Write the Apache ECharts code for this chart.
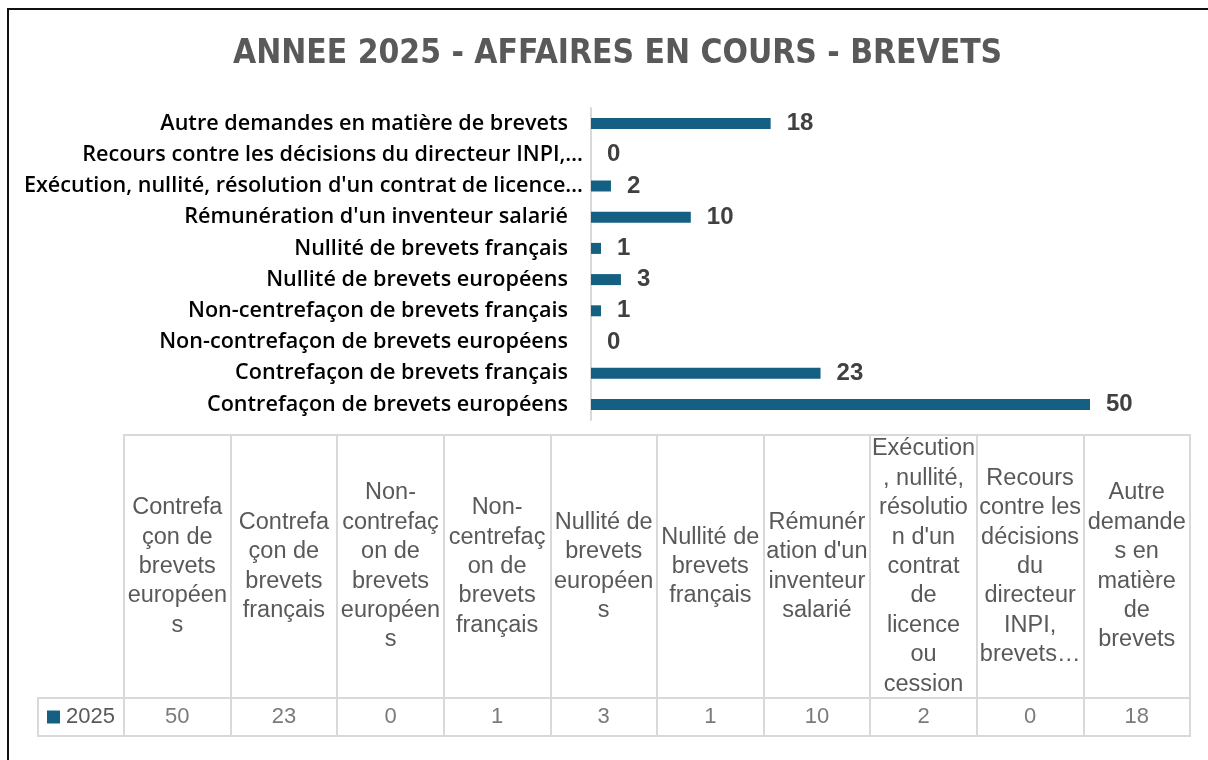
<!DOCTYPE html>
<html>
<head>
<meta charset="utf-8">
<script src="https://cdn.jsdelivr.net/npm/echarts@6/dist/echarts.min.js"></script>
<style>
  html, body { margin: 0; padding: 0; background: #fff; }
  #chart { width: 1208px; height: 760px; }
  #frame {
    position: absolute; left: 7px; top: 8px; width: 1400px; height: 900px;
    border-top: 2px solid #111; border-left: 2px solid #111; pointer-events: none;
  }
</style>
</head>
<body>
<div id="chart"></div>
<div id="frame"></div>
<script>
// categories, in table order (bottom to top on the bar chart)
const categories = [
  'Contrefaçon de brevets européens',
  'Contrefaçon de brevets français',
  'Non-contrefaçon de brevets européens',
  'Non-centrefaçon de brevets français',
  'Nullité de brevets européens',
  'Nullité de brevets français',
  "Rémunération d'un inventeur salarié",
  "Exécution, nullité, résolution d'un contrat de licence ou cession",
  'Recours contre les décisions du directeur INPI, brevets',
  'Autre demandes en matière de brevets',
];
const values2025 = [50, 23, 0, 1, 3, 1, 10, 2, 0, 18];

// labels as shown on the bar axis (truncated like the original)
const axisLabels = [
  'Contrefaçon de brevets européens',
  'Contrefaçon de brevets français',
  'Non-contrefaçon de brevets européens',
  'Non-centrefaçon de brevets français',
  'Nullité de brevets européens',
  'Nullité de brevets français',
  "Rémunération d'un inventeur salarié",
  "Exécution, nullité, résolution d'un contrat de licence…",
  'Recours contre les décisions du directeur INPI,…',
  'Autre demandes en matière de brevets',
];

// wrapped table headers
const headerLabels = [
  'Contrefa\nçon de\nbrevets\neuropéen\ns',
  'Contrefa\nçon de\nbrevets\nfrançais',
  'Non-\ncontrefaç\non de\nbrevets\neuropéen\ns',
  'Non-\ncentrefaç\non de\nbrevets\nfrançais',
  'Nullité de\nbrevets\neuropéen\ns',
  'Nullité de\nbrevets\nfrançais',
  "Rémunér\nation d'un\ninventeur\nsalarié",
  "Exécution\n, nullité,\nrésolutio\nn d'un\ncontrat\nde\nlicence\nou\ncession",
  'Recours\ncontre les\ndécisions\ndu\ndirecteur\nINPI,\nbrevets…',
  'Autre\ndemande\ns en\nmatière\nde\nbrevets',
];
const seriesName = '2025';

const barColor = '#156082';
const lineColor = '#d9d9d9';
const textGray = '#595959';
const tableFont = '"Liberation Sans", Arial, sans-serif';

const chart = echarts.init(document.getElementById('chart'), null, { renderer: 'canvas' });

chart.setOption({
  animation: false,
  title: {
    text: 'ANNEE 2025 - AFFAIRES EN COURS - BREVETS',
    left: 228,
    top: 33,
    textStyle: {
      fontFamily: '"Liberation Sans Narrow", "DejaVu Sans Condensed", sans-serif',
      fontWeight: 'bold',
      fontSize: 33.3,
      color: textGray,
    },
  },
  grid: [
    { left: 591, top: 108, width: 499, height: 312 },
    { left: 124, top: 435, width: 1066, height: 263, show: true, borderColor: lineColor, borderWidth: 2 },
    { left: 124, top: 698, width: 1066, height: 38, show: true, borderColor: lineColor, borderWidth: 2 },
    { left: 38, top: 698, width: 86, height: 38, show: true, borderColor: lineColor, borderWidth: 2 },
  ],
  xAxis: [
    { gridIndex: 0, type: 'value', min: 0, max: 50, show: false },
    {
      gridIndex: 1,
      type: 'category',
      data: categories,
      axisLine: { show: false },
      axisTick: { show: false },
      splitLine: { show: true, interval: 0, lineStyle: { color: lineColor, width: 2 } },
      axisLabel: {
        interval: 0,
        margin: -131.5,
        verticalAlign: 'middle',
        lineHeight: 29.4,
        fontSize: 23.5,
        fontFamily: tableFont,
        color: textGray,
        formatter: (v, i) => headerLabels[i],
      },
    },
    {
      gridIndex: 2,
      type: 'category',
      data: categories,
      axisLine: { show: false },
      axisTick: { show: false },
      axisLabel: { show: false },
      splitLine: { show: true, interval: 0, lineStyle: { color: lineColor, width: 2 } },
    },
    { gridIndex: 3, type: 'value', show: false },
  ],
  yAxis: [
    {
      gridIndex: 0,
      type: 'category',
      data: categories,
      axisLine: { show: true, lineStyle: { color: lineColor, width: 2 } },
      axisTick: { show: false },
      axisLabel: {
        interval: 0,
        margin: 23,
        fontSize: 21.6,
        fontFamily: '"Open Sans", "Noto Sans", sans-serif',
        fontWeight: 600,
        color: '#000',
        // truncated labels sit a bit closer to the axis, as in Excel
        formatter: (v, i) => axisLabels[i].endsWith('…') ? `{cut|${axisLabels[i]}}` : axisLabels[i],
        rich: {
          cut: {
            fontSize: 21.6,
            fontFamily: '"Open Sans", "Noto Sans", sans-serif',
            fontWeight: 600,
            color: '#000',
            padding: [0, -15, 0, 0],
          },
        },
      },
    },
    { gridIndex: 1, type: 'value', show: false },
    { gridIndex: 2, type: 'category', data: [seriesName], show: false },
    {
      gridIndex: 3,
      type: 'category',
      data: [seriesName],
      axisLine: { show: false },
      axisTick: { show: false },
      axisLabel: {
        inside: true,
        margin: 9,
        formatter: v => `{sq|}{t|${v}}`,
        rich: {
          sq: { width: 13, height: 13, backgroundColor: barColor },
          t: { padding: [0, 0, 0, 6], fontSize: 22, fontFamily: tableFont, color: textGray },
        },
      },
    },
  ],
  series: [
    {
      name: seriesName,
      type: 'bar',
      xAxisIndex: 0,
      yAxisIndex: 0,
      data: values2025,
      barWidth: 11,
      itemStyle: { color: barColor },
      label: {
        show: true,
        position: 'right',
        distance: 16,
        fontSize: 24,
        fontWeight: 'bold',
        fontFamily: tableFont,
        color: '#404040',
      },
    },
    {
      name: seriesName,
      type: 'scatter',
      xAxisIndex: 2,
      yAxisIndex: 2,
      symbolSize: 0,
      data: values2025.map((v, i) => [i, 0, v]),
      label: {
        show: true,
        position: 'inside',
        fontSize: 22,
        fontFamily: tableFont,
        color: textGray,
        formatter: p => p.value[2],
      },
    },
  ],
});
</script>
</body>
</html>
